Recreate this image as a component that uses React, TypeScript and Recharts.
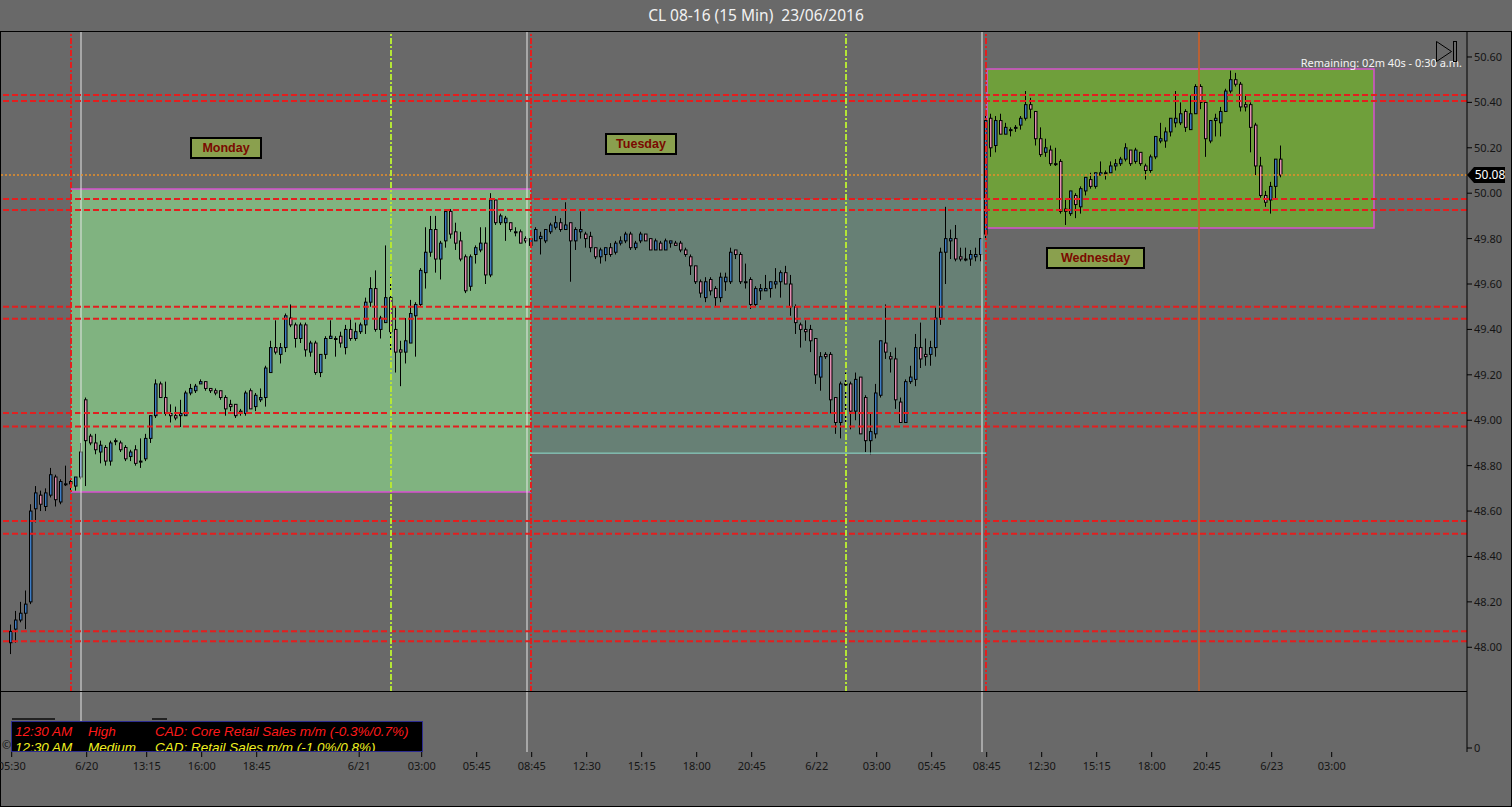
import React from "react";
import { ComposedChart, Bar, XAxis, YAxis, ReferenceLine, ReferenceArea } from "recharts";

// ---- OHLC data (15-minute bars, CL 08-16) ----
const opens = [
  48.02, 48.08, 48.12, 48.15, 48.20, 48.61, 48.67, 48.62, 48.67, 48.75,
  48.64, 48.72, 48.72, 48.71, 48.75, 49.09, 48.93, 48.90, 48.86, 48.88,
  48.82, 48.91, 48.90, 48.88, 48.84, 48.87, 48.82, 48.83, 48.92, 49.02,
  49.16, 49.10, 49.03, 49.02, 49.02, 49.02, 49.12, 49.13, 49.16, 49.17,
  49.14, 49.13, 49.13, 49.10, 49.07, 49.07, 49.03, 49.03, 49.13, 49.06,
  49.09, 49.10, 49.21, 49.32, 49.29, 49.32, 49.45, 49.42, 49.36, 49.42,
  49.30, 49.34, 49.21, 49.29, 49.36, 49.36, 49.37, 49.32, 49.40, 49.36,
  49.39, 49.42, 49.52, 49.58, 49.40, 49.43, 49.54, 49.40, 49.31, 49.30,
  49.34, 49.46, 49.51, 49.65, 49.74, 49.84, 49.71, 49.79, 49.92, 49.83,
  49.79, 49.72, 49.59, 49.73, 49.75, 49.78, 49.64, 49.97, 49.87, 49.87,
  49.87, 49.83, 49.83, 49.80, 49.77, 49.79, 49.80, 49.79, 49.83, 49.85,
  49.87, 49.84, 49.87, 49.79, 49.83, 49.82, 49.81, 49.76, 49.72, 49.73,
  49.76, 49.74, 49.78, 49.79, 49.82, 49.76, 49.79, 49.82, 49.80, 49.75,
  49.78, 49.75, 49.78, 49.78, 49.78, 49.75, 49.72, 49.68, 49.61, 49.54,
  49.62, 49.58, 49.54, 49.61, 49.61, 49.75, 49.73, 49.61, 49.62, 49.51,
  49.57, 49.57, 49.58, 49.60, 49.61, 49.65, 49.60, 49.50, 49.42, 49.40,
  49.40, 49.36, 49.19, 49.29, 49.29, 49.10, 48.99, 49.16, 49.16, 49.04,
  49.19, 49.10, 48.91, 48.94, 49.11, 49.34, 49.28, 49.27, 49.08, 48.99,
  49.17, 49.18, 49.32, 49.29, 49.29, 49.32, 49.45, 49.74, 49.79, 49.80,
  49.72, 49.71, 49.71, 49.72, 49.73, 49.82, 50.33, 50.21, 50.32, 50.26,
  50.28, 50.29, 50.30, 50.33, 50.39, 50.36, 50.24, 50.18, 50.19, 50.13,
  50.14, 49.93, 49.91, 49.99, 49.94, 50.01, 50.06, 50.03, 50.08, 50.09,
  50.09, 50.12, 50.13, 50.15, 50.19, 50.14, 50.18, 50.12, 50.10, 50.16,
  50.23, 50.23, 50.27, 50.31, 50.31, 50.36, 50.28, 50.35, 50.47, 50.40,
  50.23, 50.32, 50.31, 50.36, 50.45, 50.50, 50.48, 50.39, 50.39, 50.30,
  50.12, 49.99, 49.97, 50.03, 50.15,
];
const highs = [
  48.10, 48.16, 48.20, 48.25, 48.63, 48.71, 48.69, 48.70, 48.79, 48.76,
  48.74, 48.80, 48.74, 48.75, 48.90, 49.10, 48.94, 48.94, 48.91, 48.89,
  48.91, 48.92, 48.91, 48.89, 48.87, 48.89, 48.92, 48.94, 49.02, 49.18,
  49.17, 49.17, 49.07, 49.06, 49.09, 49.13, 49.16, 49.16, 49.18, 49.17,
  49.14, 49.14, 49.13, 49.11, 49.09, 49.07, 49.05, 49.13, 49.14, 49.12,
  49.14, 49.24, 49.35, 49.44, 49.34, 49.47, 49.51, 49.43, 49.43, 49.43,
  49.35, 49.35, 49.29, 49.37, 49.44, 49.37, 49.39, 49.42, 49.45, 49.43,
  49.43, 49.54, 49.63, 49.66, 49.46, 49.77, 49.63, 49.50, 49.35, 49.45,
  49.53, 49.52, 49.67, 49.85, 49.90, 49.90, 49.79, 49.93, 49.93, 49.87,
  49.83, 49.73, 49.73, 49.77, 49.85, 49.85, 50.00, 49.97, 49.91, 49.90,
  49.87, 49.85, 49.84, 49.81, 49.80, 49.85, 49.83, 49.84, 49.87, 49.90,
  49.89, 49.96, 49.87, 49.85, 49.92, 49.83, 49.83, 49.76, 49.76, 49.76,
  49.78, 49.79, 49.81, 49.83, 49.83, 49.79, 49.83, 49.82, 49.80, 49.80,
  49.79, 49.80, 49.79, 49.79, 49.79, 49.76, 49.73, 49.68, 49.62, 49.63,
  49.63, 49.59, 49.65, 49.65, 49.76, 49.75, 49.74, 49.69, 49.63, 49.59,
  49.60, 49.64, 49.61, 49.67, 49.66, 49.68, 49.64, 49.51, 49.43, 49.44,
  49.42, 49.36, 49.30, 49.30, 49.30, 49.10, 49.17, 49.21, 49.17, 49.21,
  49.19, 49.11, 49.03, 49.16, 49.35, 49.51, 49.30, 49.32, 49.10, 49.18,
  49.24, 49.38, 49.43, 49.36, 49.35, 49.50, 49.76, 49.94, 49.84, 49.86,
  49.76, 49.76, 49.75, 49.76, 49.80, 50.35, 50.35, 50.34, 50.35, 50.31,
  50.29, 50.30, 50.34, 50.45, 50.42, 50.36, 50.29, 50.24, 50.21, 50.20,
  50.15, 49.97, 50.01, 50.00, 50.03, 50.07, 50.09, 50.09, 50.14, 50.10,
  50.14, 50.15, 50.16, 50.22, 50.19, 50.20, 50.18, 50.13, 50.17, 50.25,
  50.31, 50.29, 50.33, 50.45, 50.40, 50.37, 50.43, 50.48, 50.48, 50.40,
  50.32, 50.35, 50.38, 50.46, 50.54, 50.53, 50.49, 50.43, 50.40, 50.31,
  50.16, 50.01, 50.05, 50.15, 50.21,
];
const lows = [
  47.97, 48.02, 48.11, 48.08, 48.19, 48.55, 48.60, 48.60, 48.66, 48.62,
  48.63, 48.71, 48.69, 48.69, 48.74, 48.71, 48.89, 48.85, 48.81, 48.80,
  48.80, 48.89, 48.86, 48.82, 48.82, 48.80, 48.79, 48.82, 48.90, 49.01,
  49.10, 49.02, 48.99, 49.00, 48.97, 49.02, 49.11, 49.12, 49.16, 49.13,
  49.12, 49.11, 49.09, 49.02, 49.04, 49.01, 49.02, 49.02, 49.05, 49.04,
  49.08, 49.06, 49.21, 49.29, 49.25, 49.30, 49.41, 49.32, 49.34, 49.28,
  49.28, 49.20, 49.19, 49.27, 49.36, 49.28, 49.32, 49.29, 49.35, 49.35,
  49.38, 49.38, 49.50, 49.39, 49.36, 49.43, 49.31, 49.21, 49.15, 49.25,
  49.34, 49.28, 49.50, 49.58, 49.72, 49.65, 49.62, 49.76, 49.80, 49.75,
  49.70, 49.56, 49.57, 49.69, 49.74, 49.60, 49.63, 49.86, 49.86, 49.79,
  49.83, 49.81, 49.78, 49.78, 49.76, 49.79, 49.73, 49.78, 49.82, 49.84,
  49.83, 49.84, 49.61, 49.75, 49.80, 49.76, 49.74, 49.71, 49.69, 49.70,
  49.72, 49.73, 49.77, 49.78, 49.75, 49.75, 49.78, 49.79, 49.75, 49.75,
  49.75, 49.75, 49.76, 49.77, 49.74, 49.72, 49.64, 49.60, 49.54, 49.52,
  49.55, 49.50, 49.52, 49.57, 49.60, 49.71, 49.60, 49.58, 49.49, 49.50,
  49.53, 49.57, 49.54, 49.58, 49.54, 49.60, 49.46, 49.38, 49.32, 49.35,
  49.30, 49.16, 49.13, 49.27, 49.03, 48.94, 48.92, 48.98, 48.96, 49.00,
  48.94, 48.86, 48.85, 48.92, 49.10, 49.27, 49.21, 49.05, 48.99, 48.99,
  49.16, 49.15, 49.23, 49.24, 49.24, 49.28, 49.42, 49.60, 49.71, 49.70,
  49.70, 49.70, 49.68, 49.70, 49.70, 49.80, 50.16, 50.18, 50.26, 50.26,
  50.25, 50.27, 50.28, 50.32, 50.33, 50.21, 50.16, 50.16, 50.12, 50.12,
  49.91, 49.86, 49.90, 49.89, 49.91, 49.99, 50.02, 50.02, 50.08, 50.06,
  50.09, 50.10, 50.12, 50.14, 50.12, 50.13, 50.12, 50.06, 50.09, 50.15,
  50.22, 50.20, 50.25, 50.29, 50.30, 50.27, 50.28, 50.35, 50.37, 50.16,
  50.22, 50.25, 50.25, 50.36, 50.44, 50.47, 50.36, 50.36, 50.18, 50.08,
  49.98, 49.94, 49.91, 49.97, 50.07,
];
const closes = [
  48.07, 48.12, 48.15, 48.19, 48.60, 48.68, 48.63, 48.68, 48.76, 48.65,
  48.73, 48.72, 48.73, 48.75, 48.86, 48.91, 48.90, 48.87, 48.89, 48.82,
  48.90, 48.91, 48.87, 48.83, 48.86, 48.81, 48.82, 48.92, 49.02, 49.16,
  49.10, 49.03, 49.02, 49.01, 49.03, 49.12, 49.14, 49.15, 49.17, 49.14,
  49.13, 49.12, 49.10, 49.05, 49.06, 49.02, 49.04, 49.12, 49.05, 49.11,
  49.10, 49.23, 49.32, 49.30, 49.32, 49.46, 49.42, 49.36, 49.42, 49.31,
  49.34, 49.21, 49.29, 49.36, 49.37, 49.36, 49.34, 49.40, 49.36, 49.39,
  49.42, 49.52, 49.58, 49.40, 49.45, 49.54, 49.39, 49.30, 49.30, 49.35,
  49.47, 49.51, 49.66, 49.74, 49.84, 49.71, 49.78, 49.92, 49.82, 49.78,
  49.71, 49.57, 49.72, 49.76, 49.78, 49.64, 49.97, 49.87, 49.90, 49.89,
  49.84, 49.83, 49.78, 49.79, 49.80, 49.84, 49.81, 49.84, 49.86, 49.87,
  49.84, 49.86, 49.79, 49.84, 49.84, 49.80, 49.76, 49.72, 49.75, 49.76,
  49.73, 49.78, 49.79, 49.82, 49.76, 49.78, 49.82, 49.79, 49.75, 49.79,
  49.75, 49.79, 49.79, 49.77, 49.75, 49.73, 49.68, 49.61, 49.56, 49.61,
  49.57, 49.54, 49.63, 49.63, 49.74, 49.73, 49.61, 49.61, 49.51, 49.58,
  49.58, 49.58, 49.61, 49.61, 49.65, 49.60, 49.50, 49.43, 49.40, 49.39,
  49.35, 49.20, 49.28, 49.28, 49.09, 48.99, 49.16, 49.16, 49.04, 49.18,
  48.94, 48.91, 48.95, 49.12, 49.35, 49.30, 49.27, 49.09, 48.99, 49.17,
  49.19, 49.32, 49.27, 49.28, 49.32, 49.45, 49.74, 49.80, 49.80, 49.71,
  49.71, 49.71, 49.73, 49.73, 49.80, 50.32, 50.20, 50.32, 50.26, 50.29,
  50.28, 50.29, 50.33, 50.39, 50.37, 50.24, 50.17, 50.20, 50.13, 50.13,
  49.92, 49.92, 50.01, 49.95, 50.02, 50.07, 50.03, 50.09, 50.09, 50.09,
  50.12, 50.13, 50.15, 50.20, 50.13, 50.19, 50.13, 50.10, 50.16, 50.25,
  50.24, 50.27, 50.33, 50.33, 50.35, 50.29, 50.35, 50.47, 50.40, 50.24,
  50.32, 50.33, 50.36, 50.45, 50.50, 50.48, 50.38, 50.38, 50.29, 50.12,
  49.99, 49.96, 50.03, 50.15, 50.08,
];

// ---- axis ticks ----
const priceTicks = [48.0, 48.2, 48.4, 48.6, 48.8, 49.0, 49.2, 49.4, 49.6, 49.8, 50.0, 50.2, 50.4, 50.6];
const timeTickBars = [0, 15, 27, 38, 49, 69.5, 82, 93, 104, 115, 126, 137, 148, 161, 173, 184, 195, 206, 217, 228, 239, 252, 264];
const timeTickLabels = ["05:30", "6/20", "13:15", "16:00", "18:45", "6/21", "03:00", "05:45", "08:45", "12:30", "15:15", "18:00", "20:45", "6/22", "03:00", "05:45", "08:45", "12:30", "15:15", "18:00", "20:45", "6/23", "03:00"];

// ---- drawing objects (positions in bar units / prices) ----
const resistanceLevels = [50.433, 50.406, 49.974, 49.926, 49.50, 49.447, 48.972, 48.556, 48.50, 48.071, 48.027];
const hiddenLevels = [49.032];
const sessionBreaks = [11.86, 103.86, 194.86];
const sessionOpens = [13.86, 103.06, 194.06];
const midSessions = [75.86, 166.86];
const eventBars = [237.46];
const dayLabels = ["Monday", "Tuesday", "Wednesday"];
const boxStart = [11.86, 103.86, 195.06];
const boxEnd = [103.86, 194.86, 272.46];
const boxHigh = [50.019, 49.974, 50.547];
const boxLow = [48.684, 48.855, 49.847];

// ---- news events ----
const eventTimes = ["12:30 AM", "12:30 AM"];
const eventImpacts = ["High", "Medium"];
const eventTitles = ["CAD: Core Retail Sales m/m (-0.3%/0.7%)", "CAD: Retail Sales m/m (-1.0%/0.8%)"];

const X_MIN = -2.14;
const X_MAX = 291.06;
const Y_MIN = 47.803;
const Y_MAX = 50.71;

const UP = "#3d7cc4";
const DOWN = "#e48db4";
const BG = "#696969";
const FONT = "'Noto Sans', 'Open Sans', sans-serif";

const candles = opens.map((o, i) => ({ i, o, h: highs[i], l: lows[i], c: closes[i] }));
const lastPrice = closes[closes.length - 1];

const Candle = (props: any) => {
  const { x, y, width, height, payload } = props;
  if (payload == null || x == null) return null;
  const { o, h, l, c } = payload;
  const top = Math.min(y, y + height);
  const hgt = Math.abs(height);
  const cx = Math.round(x + width / 2);
  const span = h - l || 1;
  const yOf = (v: number) => top + ((h - v) / span) * hgt;
  const bTop = yOf(Math.max(o, c));
  const bBot = yOf(Math.min(o, c));
  const up = c >= o;
  return (
    <g>
      <line x1={cx - 0.5} x2={cx - 0.5} y1={top} y2={top + hgt} stroke="#000" strokeWidth={1} />
      <rect x={cx - 1.5} y={bTop} width={2.5} height={Math.max(bBot - bTop, 1)} fill={up ? UP : DOWN} stroke="#000" strokeWidth={1} />
    </g>
  );
};

const PriceTag = (props: any) => {
  const vb = props.viewBox || {};
  const x = (vb.x || 0) + (vb.width || 0);
  const y = vb.y || 0;
  return (
    <g>
      <path d={`M${x},${y} L${x + 7},${y - 8} L${x + 38},${y - 8} L${x + 38},${y + 8} L${x + 7},${y + 8} Z`} fill="#000" />
      <text x={x + 23} y={y} dy="0.36em" textAnchor="middle" fill="#fff" fontSize={12} fontFamily={FONT}>
        {lastPrice.toFixed(2)}
      </text>
    </g>
  );
};

const labelBoxStyle: React.CSSProperties = {
  position: "absolute",
  height: 22,
  boxSizing: "border-box",
  border: "2px solid #000",
  background: "#8aa04e",
  color: "#7a0a00",
  fontFamily: "'Liberation Sans', Arial, sans-serif",
  fontWeight: "bold",
  fontSize: 12.5,
  lineHeight: "18px",
  textAlign: "center",
};

export default function App() {
  const labelPos = [
    { left: 190, top: 137, width: 72 },
    { left: 605, top: 133, width: 72 },
    { left: 1046, top: 247, width: 99 },
  ];
  const eventColors = ["#ff1a1a", "#f0f020"];
  return (
    <div style={{ position: "absolute", left: 0, top: 0, width: 1512, height: 807, background: BG, overflow: "hidden" }}>
      {/* title */}
      <div style={{ position: "absolute", left: 0, top: 4, width: 1512, textAlign: "center", color: "#f2f2f2", fontFamily: FONT, fontSize: 15.5, whiteSpace: "pre" }}>
        {"CL 08-16 (15 Min)  23/06/2016"}
      </div>
      {/* frame */}
      <div style={{ position: "absolute", left: 0, top: 31, width: 1512, height: 776, border: "1px solid #000", boxSizing: "border-box" }} />

      {/* main price panel */}
      <div style={{ position: "absolute", left: 0, top: 32 }}>
        <ComposedChart width={1512} height={660} data={candles} margin={{ top: 0, right: 0, bottom: 0, left: 1 }}>
          <XAxis dataKey="i" type="number" domain={[X_MIN, X_MAX]} allowDataOverflow hide />
          <YAxis
            orientation="right"
            width={45}
            type="number"
            domain={[Y_MIN, Y_MAX]}
            allowDataOverflow
            ticks={priceTicks}
            interval={0}
            tickFormatter={(v: number) => v.toFixed(2)}
            tick={{ fill: "#151515", fontSize: 11, fontFamily: FONT }}
            tickSize={5}
            tickMargin={2}
            axisLine={{ stroke: "#000" }}
            tickLine={{ stroke: "#000" }}
          />
          {hiddenLevels.map((p, k) => (
            <ReferenceLine key={"h" + k} y={p} stroke="#e02020" strokeWidth={2} strokeDasharray="6 3" />
          ))}
          {boxStart.map((x1, k) => (
            <ReferenceArea
              key={"b" + k}
              x1={x1}
              x2={boxEnd[k]}
              y1={boxLow[k]}
              y2={boxHigh[k]}
              fill={["#80b380", "#678075", "#6f9f3b"][k]}
              fillOpacity={1}
              stroke={k === 2 ? "#d850d0" : "none"}
              strokeWidth={1.5}
            />
          ))}
          <ReferenceLine segment={[{ x: boxStart[0], y: boxHigh[0] }, { x: boxEnd[0], y: boxHigh[0] }]} stroke="#d850d0" strokeWidth={1.5} />
          <ReferenceLine segment={[{ x: boxStart[0], y: boxLow[0] }, { x: boxEnd[0], y: boxLow[0] }]} stroke="#d850d0" strokeWidth={1.5} />
          <ReferenceLine segment={[{ x: boxStart[1], y: boxLow[1] }, { x: boxEnd[1], y: boxLow[1] }]} stroke="#8ee0d0" strokeWidth={1} />
          {sessionOpens.map((x, k) => (
            <ReferenceLine key={"w" + k} x={x} stroke="#e6e6e6" strokeWidth={1} />
          ))}
          {eventBars.map((x, k) => (
            <ReferenceLine key={"e" + k} x={x} stroke="#c8602c" strokeOpacity={0.85} strokeWidth={2} />
          ))}
          <Bar dataKey={(d: any) => [d.l, d.h]} barSize={5} isAnimationActive={false} shape={(p: any) => <Candle {...p} />} />
          {resistanceLevels.map((p, k) => (
            <ReferenceLine key={"r" + k} y={p} stroke="#e41e1e" strokeWidth={2} strokeDasharray="6 3" />
          ))}
          <ReferenceLine y={lastPrice} stroke="#e8902a" strokeWidth={1.5} strokeDasharray="2 2" label={<PriceTag />} />
          {sessionBreaks.map((x, k) => (
            <ReferenceLine key={"s" + k} x={x} stroke="#e41e1e" strokeWidth={2} strokeDasharray="6 2 2 2" />
          ))}
          {midSessions.map((x, k) => (
            <ReferenceLine key={"m" + k} x={x} stroke="#b4e636" strokeWidth={2} strokeDasharray="6 2 2 2" />
          ))}
        </ComposedChart>
      </div>

      {/* separator */}
      <div style={{ position: "absolute", left: 0, top: 691, width: 1467, height: 1, background: "#000" }} />

      {/* indicator panel + time axis */}
      <div style={{ position: "absolute", left: 0, top: 692 }}>
        <ComposedChart width={1512} height={114} data={candles} margin={{ top: 0, right: 0, bottom: 0, left: 1 }}>
          <XAxis
            dataKey="i"
            type="number"
            domain={[X_MIN, X_MAX]}
            allowDataOverflow
            height={54}
            ticks={timeTickBars}
            interval={0}
            tickFormatter={(v: number) => {
              const k = timeTickBars.indexOf(v);
              return k >= 0 ? timeTickLabels[k] : "";
            }}
            tick={{ fill: "#151515", fontSize: 11, fontFamily: FONT }}
            tickSize={5}
            tickMargin={5}
            axisLine={false}
            tickLine={{ stroke: "#000" }}
          />
          <YAxis
            orientation="right"
            width={45}
            type="number"
            domain={[-0.0714, 1]}
            allowDataOverflow
            ticks={[0]}
            interval={0}
            tick={{ fill: "#151515", fontSize: 11, fontFamily: FONT }}
            tickSize={5}
            tickMargin={2}
            axisLine={{ stroke: "#000" }}
            tickLine={{ stroke: "#000" }}
          />
          {sessionOpens.map((x, k) => (
            <ReferenceLine key={"w2" + k} x={x} stroke="#e6e6e6" strokeWidth={1} />
          ))}
        </ComposedChart>
      </div>

      {/* day labels */}
      {dayLabels.map((t, k) => (
        <div key={t} style={{ ...labelBoxStyle, left: labelPos[k].left, top: labelPos[k].top, width: labelPos[k].width }}>
          {t}
        </div>
      ))}

      {/* remaining time + icon */}
      <div style={{ position: "absolute", right: 50, top: 55, color: "#f4f4f4", fontFamily: FONT, fontSize: 11, whiteSpace: "pre" }}>
        Remaining: 02m 40s - 0:30 a.m.
      </div>
      <svg style={{ position: "absolute", left: 1434, top: 40 }} width={26} height={24}>
        <path d="M2.5,1.5 L17.5,11.5 L2.5,21.5 Z" fill="none" stroke="#000" strokeWidth={1} />
        <rect x={19.5} y={1.5} width={3} height={20} fill="none" stroke="#000" strokeWidth={1} />
      </svg>

      {/* news events */}
      <div style={{ position: "absolute", left: 2, top: 737, fontSize: 11, color: "#111", fontFamily: FONT }}>©</div>
      <div style={{ position: "absolute", left: 12, top: 718, width: 43, height: 2, background: "#222" }} />
      <div style={{ position: "absolute", left: 152, top: 718, width: 15, height: 2, background: "#222" }} />
      <div
        style={{
          position: "absolute",
          left: 11,
          top: 721,
          width: 412,
          height: 31,
          background: "#000",
          border: "1px solid #2c2c90",
          boxSizing: "border-box",
          overflow: "hidden",
          fontFamily: "'Liberation Sans', Arial, sans-serif",
          fontStyle: "italic",
          fontSize: 13.5,
          lineHeight: "15px",
        }}
      >
        {eventTimes.map((t, k) => (
          <React.Fragment key={k}>
            <div style={{ position: "absolute", left: 3, top: 1.5 + k * 16.5, color: eventColors[k], whiteSpace: "pre" }}>{t}</div>
            <div style={{ position: "absolute", left: 76, top: 1.5 + k * 16.5, color: eventColors[k], whiteSpace: "pre" }}>{eventImpacts[k]}</div>
            <div style={{ position: "absolute", left: 143, top: 1.5 + k * 16.5, color: eventColors[k], whiteSpace: "pre" }}>{eventTitles[k]}</div>
          </React.Fragment>
        ))}
      </div>
    </div>
  );
}
